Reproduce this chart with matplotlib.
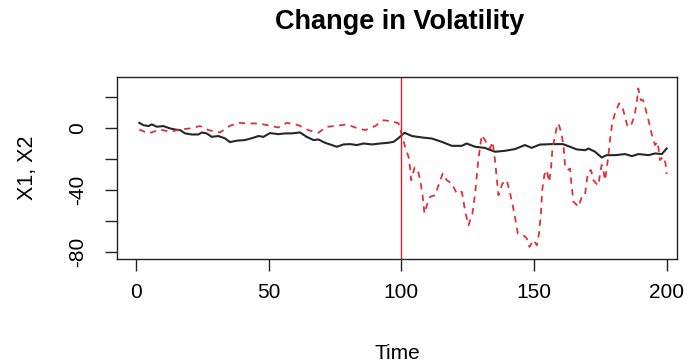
import matplotlib

matplotlib.use("Agg")

import matplotlib.pyplot as plt

plt.rcParams["font.family"] = ["Liberation Sans", "DejaVu Sans"]

# series X1 (black, solid)
x1_time = [1.2, 2.8, 4.7, 5.9, 7.8, 10.3, 12.8, 14.7, 16.6, 18.5, 21.0, 23.5, 24.8,
           26.6, 28.5, 31.0, 33.5, 35.4, 37.9, 41.0, 44.2, 46.1, 48.0, 50.5, 53.6,
           56.2, 58.7, 61.8, 64.3, 66.9, 68.7, 71.2, 73.8, 75.7, 78.2, 80.7, 83.2,
           85.8, 88.9, 92.0, 95.2, 97.1, 99.0, 101.2, 104.0, 107.7, 111.5, 115.2,
           119.0, 122.8, 124.6, 127.8, 131.4, 135.3, 139.0, 142.8, 146.6, 149.1,
           152.2, 156.7, 160.9, 163.6, 166.1, 169.3, 170.5, 173.0, 175.5, 177.4,
           180.6, 184.3, 186.9, 189.4, 193.2, 195.6, 198.2, 200.0]
x1_vals = [3.2, 1.7, 1.1, 2.2, 0.7, 1.1, -0.4, -1.1, -1.5, -3.6, -4.3, -4.3, -3.0,
           -3.6, -5.8, -5.3, -6.8, -9.2, -8.3, -7.9, -6.4, -5.3, -5.8, -3.4, -4.1,
           -3.6, -3.6, -3.0, -5.8, -7.9, -7.5, -9.6, -11.1, -12.2, -10.7, -10.5, -11.1,
           -10.1, -10.7, -10.1, -9.6, -9.0, -6.5, -3.2, -5.3, -6.2, -6.9, -9.0,
           -11.6, -11.6, -10.1, -12.2, -12.9, -15.4, -14.8, -13.7, -11.1, -12.9,
           -10.8, -10.5, -10.5, -12.2, -13.9, -14.4, -13.3, -15.4, -19.1, -17.6,
           -17.6, -16.9, -18.2, -16.9, -17.6, -16.5, -16.9, -13.3]

# series X2 (red, dashed)
x2_time = [1.2, 4.7, 9.1, 12.8, 16.6, 20.4, 24.1, 27.3, 31.7, 35.4, 38.6, 42.2,
           46.1, 49.5, 53.6, 56.8, 61.2, 64.9, 68.7, 71.8, 75.7, 79.4, 82.6, 86.4,
           90.1, 93.3, 97.1, 99.0, 100.2, 101.4, 102.7, 103.3, 103.7, 105.0, 106.2,
           107.1, 108.0, 108.7, 109.6, 110.8, 112.7, 114.0, 115.6, 117.1, 119.0,
           120.9, 122.8, 124.1, 125.3, 126.8, 127.8, 129.0, 130.3, 131.5, 133.4,
           134.4, 135.3, 136.6, 138.1, 139.7, 141.0, 142.6, 143.9, 146.0, 147.3,
           148.3, 149.8, 151.1, 151.9, 152.6, 153.1, 153.9, 154.8, 155.7, 156.4,
           156.9, 157.7, 158.6, 159.2, 160.2, 161.1, 161.7, 162.7, 163.6, 164.2,
           164.9, 166.8, 168.0, 169.2, 169.9, 170.5, 171.5, 172.4, 173.4, 174.3,
           174.9, 175.5, 176.1, 176.8, 177.4, 178.0, 178.7, 179.5, 180.5, 182.1,
           183.3, 184.3, 185.3, 186.6, 187.8, 188.7, 189.3, 190.3, 191.1, 192.0,
           193.3, 194.3, 195.6, 196.6, 197.5, 198.7, 199.6, 200.0]
x2_vals = [-1.1, -3.6, -1.1, -2.6, -1.1, -0.4, 1.1, -1.5, -3.0, 1.3, 3.2, 2.8,
           2.8, 1.7, 0.2, 3.2, 1.7, -1.5, -3.2, 0.6, 1.3, 2.2, 0.2, -1.5,
           1.1, 4.9, 3.9, 2.8, -4.7, -12.2, -18.6, -26.2, -33.7, -25.5, -27.2,
           -33.7, -43.4, -55.1, -49.8, -44.4, -43.4, -37.0, -29.4, -33.7, -35.8,
           -42.3, -41.2, -54.1, -62.7, -55.1, -42.3, -20.8, -4.7, -7.9, -13.3,
           -9.0, -20.8, -43.4, -35.8, -33.7, -42.3, -55.1, -68.0, -69.1, -71.2,
           -76.6, -72.3, -75.5, -68.0, -55.1, -40.1, -30.4, -27.2, -34.8, -26.2,
           -14.4, -6.9, 0.6, 2.8, -2.6, -11.1, -23.9, -27.2, -26.2, -37.9,
           -47.6, -50.8, -44.4, -43.4, -33.7, -28.3, -27.2, -33.7, -35.8, -37.0,
           -29.4, -23.9, -27.2, -33.7, -26.2, -18.6, -6.9, 2.8, 9.2, 15.7,
           13.5, 7.1, 0.6, 1.7, 7.1, 15.7, 25.3, 17.8, 17.8, 12.5,
           3.9, -3.6, -11.1, -9.0, -20.8, -18.6, -23.0, -29.8]

break_time = 100
x_ticks = [0, 50, 100, 150, 200]
y_ticks = [20, 0, -20, -40, -60, -80]
y_ticklabels = ["", "0", "", "-40", "", "-80"]

fig = plt.figure(figsize=(6.88, 3.64), dpi=100)
ax = fig.add_axes([0.170, 0.288, 0.814, 0.501])

ax.plot(x1_time, x1_vals, color="#262626", linewidth=1.5)
ax.plot(x2_time, x2_vals, color="#e0303a", linewidth=1.3, dashes=(3.5, 3))
ax.axvline(break_time, color="#d62030", linewidth=1.0)

ax.set_xlim(-7.2, 203.9)
ax.set_ylim(-84.5, 32.8)
ax.set_xticks(x_ticks)
ax.set_yticks(y_ticks)
ax.set_yticklabels(y_ticklabels, rotation=90, va="center")
ax.tick_params(axis="both", length=8.5, width=1.0, labelsize=15, color="#222222")
ax.tick_params(axis="x", pad=9)
ax.tick_params(axis="y", pad=13)
for spine in ax.spines.values():
    spine.set_linewidth(1.0)
    spine.set_color("#222222")

ax.set_xlabel("Time", fontsize=15, labelpad=30)
ax.set_ylabel("X1, X2", fontsize=15.5, labelpad=22)
fig.text(0.581, 0.94, "Change in Volatility", ha="center", va="center",
         fontsize=19.5, fontweight="bold")

fig.savefig("out.png", dpi=100)
plt.close(fig)
